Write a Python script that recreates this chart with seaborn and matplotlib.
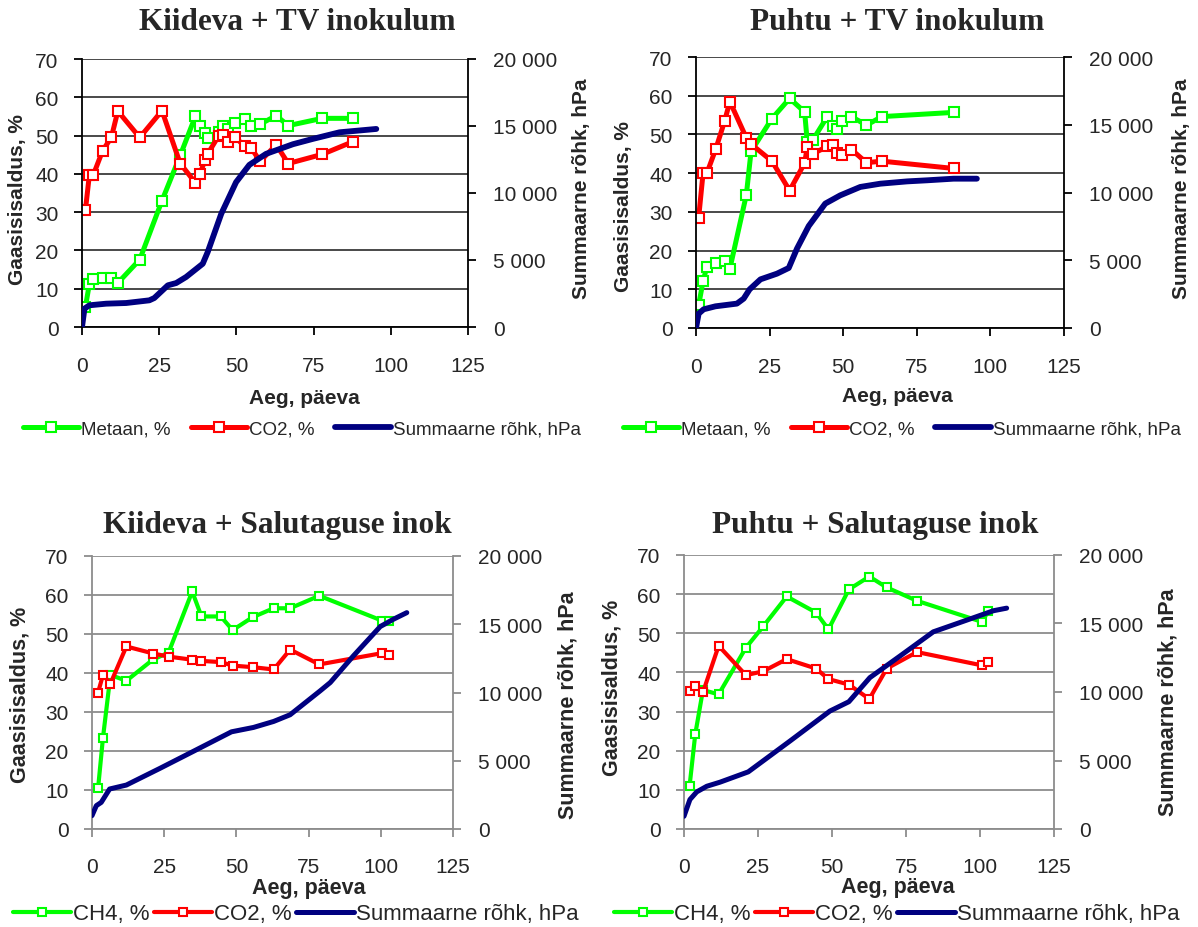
import numpy as np
import pandas as pd
import seaborn as sns
import matplotlib
matplotlib.use("Agg")
import matplotlib.pyplot as plt
from matplotlib import font_manager as fm
from matplotlib.ticker import FuncFormatter

# ---------------- data ----------------
x_ticks = [0, 25, 50, 75, 100, 125]
left_ticks = [0, 10, 20, 30, 40, 50, 60, 70]
right_ticks = [0, 5000, 10000, 15000, 20000]

titles = ["Kiideva + TV inokulum", "Puhtu + TV inokulum",
          "Kiideva + Salutaguse inok", "Puhtu + Salutaguse inok"]
x_label = "Aeg, päeva"
y_left_label = "Gaasisisaldus, %"
y_right_label = "Summaarne rõhk, hPa"
legend_top = ["Metaan, %", "CO2, %", "Summaarne rõhk, hPa"]
legend_bottom = ["CH4, %", "CO2, %", "Summaarne rõhk, hPa"]

# Panel 1: Kiideva + TV inokulum
p1_day = [1.1, 2.4, 3.7, 6.7, 9.5, 11.6, 18.7, 25.9, 31.8, 36.7, 38.2, 39.8, 40.7,
          44.3, 45.6, 47.2, 49.7, 52.7, 54.8, 57.7, 62.9, 66.8, 77.8, 87.7]
p1_ch4 = [5.2, 11.3, 12.6, 12.8, 12.8, 11.5, 17.6, 33.0, 44.8, 55.0, 52.4, 50.6, 49.3,
          50.9, 52.4, 51.7, 53.3, 54.2, 52.6, 53.0, 55.2, 52.6, 54.5, 54.5]
p1_co2 = [30.5, 39.8, 39.8, 46.1, 49.5, 56.4, 49.5, 56.5, 42.7, 37.7, 39.9, 43.6, 45.2,
          50.0, 50.2, 48.4, 49.5, 47.2, 46.7, 43.3, 47.6, 42.7, 45.1, 48.4]
p1_press_day = [0, 0.8, 2.4, 7.8, 14.3, 21.8, 23.4, 27.8, 30.5, 33.7, 39.1, 40.7, 45.1,
                49.9, 54.2, 59.6, 68.3, 74.8, 83.4, 95.3]
p1_press = [0, 1370, 1620, 1740, 1790, 1990, 2160, 3110, 3280, 3730, 4720, 5590, 8450,
            10810, 12100, 12920, 13640, 14040, 14530, 14780]

# Panel 2: Puhtu + TV inokulum
p2_day = [0.9, 2.4, 3.7, 6.7, 9.7, 11.5, 17.1, 18.7, 25.8, 31.8, 36.9, 37.8, 39.7,
          44.6, 46.5, 47.8, 49.7, 52.8, 57.9, 63.1, 87.7]
p2_ch4 = [5.9, 12.1, 15.8, 16.8, 17.4, 15.3, 34.4, 45.6, 54.1, 59.3, 55.8, 48.0, 48.6,
          54.6, 52.3, 51.4, 53.4, 54.6, 52.4, 54.6, 55.7]
p2_co2 = [28.5, 40.0, 40.0, 46.2, 53.4, 58.5, 49.1, 47.5, 43.1, 35.5, 42.6, 46.8, 45.0,
          46.9, 47.3, 45.2, 44.8, 46.1, 42.7, 43.1, 41.2]
p2_press_day = [0, 0.9, 2.6, 6.6, 13.9, 16.2, 18.2, 21.9, 27.5, 31.5, 34.3, 38.3, 43.9,
                49.0, 55.8, 62.6, 71.7, 78.5, 87.5, 95.4]
p2_press = [0, 1060, 1380, 1600, 1800, 2170, 2850, 3590, 4010, 4430, 5860, 7530, 9180,
            9790, 10410, 10650, 10820, 10900, 11020, 11020]

# Panel 3: Kiideva + Salutaguse inok
p3_day = [2.1, 3.8, 6.4, 11.9, 21.2, 26.5, 34.7, 37.9, 44.6, 48.7, 55.6, 62.9, 68.6,
          78.7, 100.5, 102.7]
p3_ch4 = [10.4, 23.4, 39.5, 38.0, 43.5, 45.2, 60.9, 54.5, 54.5, 51.0, 54.3, 56.6, 56.6,
          59.8, 53.4, 53.4]
p3_co2 = [35.0, 39.5, 37.3, 46.8, 45.0, 44.2, 43.4, 43.1, 42.8, 41.9, 41.5, 40.9, 46.0,
          42.2, 45.1, 44.5]
p3_press_day = [0, 1.5, 3.2, 6.1, 11.9, 23.5, 35.0, 48.3, 55.9, 62.9, 68.6, 79.0, 82.5,
                90.5, 99.8, 104.4, 109.0]
p3_press = [980, 1710, 1950, 2930, 3220, 4440, 5680, 7120, 7440, 7880, 8370, 10120,
            10730, 12680, 14830, 15370, 15850]

# Panel 4: Puhtu + Salutaguse inok
p4_day = [1.9, 3.8, 6.4, 11.7, 20.9, 26.8, 34.7, 44.6, 48.8, 55.7, 62.6, 68.5, 78.7,
          100.7, 102.8]
p4_ch4 = [11.1, 24.2, 35.5, 34.4, 46.3, 51.8, 59.4, 55.3, 51.0, 61.2, 64.5, 61.7, 58.3,
          52.9, 55.7]
p4_co2 = [35.3, 36.6, 34.9, 46.8, 39.3, 40.3, 43.4, 41.0, 38.3, 36.9, 33.2, 41.0, 45.2,
          41.8, 42.7]
p4_press_day = [0, 2.0, 4.3, 7.7, 12.2, 21.7, 35.8, 49.3, 55.7, 62.8, 73.0, 84.2, 93.2,
                104.5, 109.0]
p4_press = [930, 2150, 2710, 3120, 3420, 4170, 6420, 8610, 9290, 11050, 12630, 14390,
            15070, 15930, 16120]

# ---------------- styling ----------------
sns.set_style("white")
names = {f.name for f in fm.fontManager.ttflist}
NARROW = "Liberation Sans Narrow" if "Liberation Sans Narrow" in names else "Liberation Sans"
SANS = "Liberation Sans"
SERIF = "Liberation Serif"
plt.rcParams["font.family"] = [SANS, "DejaVu Sans"]

GREEN = "#00FF00"
RED = "#FF0000"
NAVY = "#000080"

W, H = 1198, 928
fig = plt.figure(figsize=(W / 100, H / 100), dpi=100)


def frac(left, top, right, bottom):
    return [left / W, 1 - bottom / H, (right - left) / W, (bottom - top) / H]


panels = [
    dict(box=(82, 60, 468, 328), day=p1_day, ch4=p1_ch4, co2=p1_co2, pd=p1_press_day, pr=p1_press,
         top=True, title_xy=(297, 22), ylab_l=(18, 200), ylab_r=(582, 189), xlab=(304, 398),
         leg=(302, 430)),
    dict(box=(696, 58, 1064, 329), day=p2_day, ch4=p2_ch4, co2=p2_co2, pd=p2_press_day, pr=p2_press,
         top=True, title_xy=(897, 22), ylab_l=(624, 207), ylab_r=(1182, 189), xlab=(897, 397),
         leg=(902, 430)),
    dict(box=(92, 557, 453, 830), day=p3_day, ch4=p3_ch4, co2=p3_co2, pd=p3_press_day, pr=p3_press,
         top=False, title_xy=(277, 526), ylab_l=(20, 695), ylab_r=(568, 705), xlab=(309, 889),
         leg=(296, 915)),
    dict(box=(684, 556, 1054, 830), day=p4_day, ch4=p4_ch4, co2=p4_co2, pd=p4_press_day, pr=p4_press,
         top=False, title_xy=(875, 526), ylab_l=(612, 688), ylab_r=(1168, 702), xlab=(898, 888),
         leg=(897, 915)),
]

fmt = FuncFormatter(lambda v, p: f"{int(v):,}".replace(",", " "))

for i, P in enumerate(panels):
    top = P["top"]
    frame_c = "black" if top else "#8c8c8c"
    grid_c = "#3a3a3a" if top else "#8c8c8c"
    ax = fig.add_axes(frac(*P["box"]))
    ax2 = ax.twinx()
    lw_gas = 3.6 if top else 3.0
    lw_p = 4.2 if top else 3.6
    ms = 7 if top else 6.3

    df = pd.DataFrame({"day": P["day"], "ch4": P["ch4"], "co2": P["co2"]})
    dfp = pd.DataFrame({"day": P["pd"], "p": P["pr"]})

    sns.lineplot(data=df, x="day", y="ch4", ax=ax, color=GREEN, lw=lw_gas, marker="s",
                 markersize=ms, markerfacecolor="white", markeredgecolor=GREEN,
                 markeredgewidth=1.5, sort=False, estimator=None)
    l_g = ax.lines[-1]
    sns.lineplot(data=df, x="day", y="co2", ax=ax, color=RED, lw=lw_gas, marker="s",
                 markersize=ms, markerfacecolor="white", markeredgecolor=RED,
                 markeredgewidth=1.5, sort=False, estimator=None)
    l_r = ax.lines[-1]
    sns.lineplot(data=dfp, x="day", y="p", ax=ax2, color=NAVY, lw=lw_p, sort=False,
                 estimator=None, solid_capstyle="round")
    l_b = ax2.lines[-1]

    ax.set_xlim(0, 125)
    ax.set_ylim(0, 70)
    ax.set_xticks(x_ticks)
    ax.set_yticks(left_ticks)
    ax2.set_ylim(0, 20000)
    ax2.set_yticks(right_ticks)
    ax2.yaxis.set_major_formatter(fmt)
    ax.set_xlabel("")
    ax.set_ylabel("")
    ax2.set_ylabel("")
    ax.grid(False)
    ax2.grid(False)
    ax.yaxis.grid(True, color=grid_c, lw=1.3)
    ax.set_axisbelow(True)

    for a in (ax, ax2):
        a.spines["top"].set_visible(False)
        for s in ("left", "right", "bottom"):
            a.spines[s].set_color(frame_c)
            a.spines[s].set_linewidth(1.3)
    ax.spines["right"].set_visible(False)
    ax2.spines["left"].set_visible(False)
    ax2.spines["bottom"].set_visible(False)

    tick_fs = 15
    xpad = 15 if top else 14.5
    ax.tick_params(axis="x", direction="out", length=6, width=1.3, color=frame_c,
                   pad=xpad, labelsize=tick_fs, bottom=True)
    ax.tick_params(axis="y", direction="out", length=6, width=1.3, color=frame_c,
                   pad=11, labelsize=tick_fs, left=True)
    ax2.tick_params(axis="y", direction="out", length=6, width=1.3, color=frame_c,
                    pad=12, labelsize=tick_fs, right=True)
    for lab in ax.get_xticklabels() + ax.get_yticklabels() + ax2.get_yticklabels():
        lab.set_fontfamily([NARROW, "DejaVu Sans"])

    # title
    fig.text(P["title_xy"][0] / W, 1 - P["title_xy"][1] / H, titles[i],
             ha="center", va="center", fontsize=22.5, fontweight="bold",
             family=[SERIF, "DejaVu Serif"])
    lab_family = [SANS, "DejaVu Sans"] if top else [NARROW, "DejaVu Sans"]
    lab_fs = 15 if top else 15.5
    fig.text(P["ylab_l"][0] / W, 1 - P["ylab_l"][1] / H, y_left_label, rotation=90,
             ha="center", va="center", fontsize=lab_fs, fontweight="bold", family=lab_family)
    fig.text(P["ylab_r"][0] / W, 1 - P["ylab_r"][1] / H, y_right_label, rotation=90,
             ha="center", va="center", fontsize=lab_fs, fontweight="bold", family=lab_family)
    fig.text(P["xlab"][0] / W, 1 - P["xlab"][1] / H, x_label,
             ha="center", va="center", fontsize=lab_fs, fontweight="bold", family=lab_family)

    labels = legend_top if top else legend_bottom
    leg_family = SANS if top else NARROW
    leg_fs = 13.5 if top else 16
    hl = 3.0 if top else 2.6
    cs = 1.1 if top else 0.2
    fig.legend(handles=[l_g, l_r, l_b], labels=labels, loc="center",
               bbox_to_anchor=(P["leg"][0] / W, 1 - P["leg"][1] / H), ncol=3,
               frameon=False, handlelength=hl, handletextpad=0.1, columnspacing=cs,
               prop={"family": leg_family, "size": leg_fs}, numpoints=1)

fig.savefig("out.png", dpi=100)
